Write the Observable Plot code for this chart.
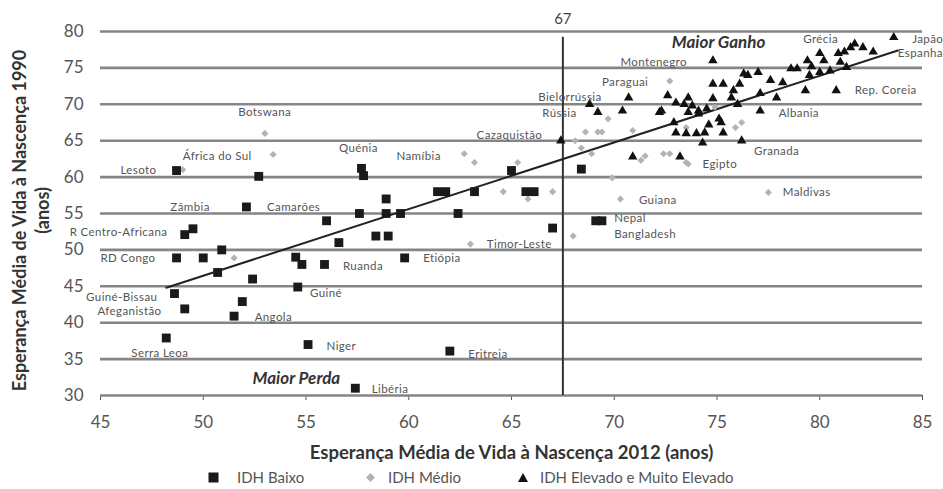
<!DOCTYPE html>
<html>
<head>
<meta charset="utf-8">
<script src="https://cdn.jsdelivr.net/npm/d3@7"></script>
<script src="https://cdn.jsdelivr.net/npm/@observablehq/plot@0.6"></script>
<style>
  html, body { margin: 0; padding: 0; background: #fff; overflow: hidden; }
  #wrap { position: relative; width: 943px; height: 489px; font-family: Lato, "Open Sans", sans-serif; }
  #legend { position: absolute; left: 0; top: 465px; width: 943px; height: 24px; font-size: 15px; color: #555; }
  #legend .it { position: absolute; top: 3px; display: flex; align-items: center; white-space: nowrap; }
  .lbl text { letter-spacing: 0.4px; }
</style>
</head>
<body>
<div id="wrap">
  <div id="chart"></div>
  <div id="legend"></div>
</div>
<script>
// ---- Data ----
const xTicks = [45, 50, 55, 60, 65, 70, 75, 80, 85];
const yTicks = [30, 35, 40, 45, 50, 55, 60, 65, 70, 75, 80];

// IDH Baixo (squares)
const lowX = [48.7, 52.7, 52.1, 56.0, 49.1, 49.5, 48.7, 50.0, 50.9, 50.7, 52.4, 54.5, 54.8, 55.9, 48.6, 49.1, 51.9, 51.5, 54.6, 48.2, 55.1, 57.4, 62.0, 57.7, 57.8, 58.9, 57.6, 58.9, 59.6, 58.4, 59.0, 56.6, 59.8, 61.4, 61.8, 63.2, 62.4, 65.0, 65.7, 66.1, 67.0, 68.4, 69.1, 69.4];
const lowY = [60.9, 60.1, 55.9, 54.0, 52.1, 52.9, 48.9, 48.9, 50.0, 46.9, 46.0, 49.0, 48.0, 48.0, 44.0, 41.9, 42.9, 40.9, 44.9, 37.9, 37.0, 31.0, 36.1, 61.2, 60.2, 57.0, 55.0, 55.0, 55.0, 51.9, 51.9, 51.0, 48.9, 58.0, 58.0, 58.0, 55.0, 60.9, 58.0, 58.0, 53.0, 61.1, 54.0, 54.0];

// IDH Médio (diamonds)
const medX = [53.0, 53.4, 49.0, 51.5, 62.7, 63.2, 65.3, 64.6, 67.0, 65.8, 63.0, 68.0, 69.9, 68.1, 68.6, 69.2, 69.4, 69.7, 68.4, 68.9, 70.3, 72.7, 71.5, 72.4, 72.7, 73.5, 73.5, 75.9, 70.9, 77.5, 76.4, 74.9, 76.2, 71.3, 73.6];
const medY = [66.0, 63.1, 61.0, 48.9, 63.2, 62.0, 62.0, 58.0, 58.0, 57.0, 50.8, 51.9, 59.9, 65.0, 66.2, 66.2, 66.2, 68.0, 64.0, 63.2, 57.0, 73.2, 62.9, 63.2, 63.2, 62.0, 66.8, 66.8, 66.4, 57.9, 74.0, 69.6, 67.5, 62.3, 61.8];

// IDH Elevado e Muito Elevado (triangles)
const highX = [67.4, 68.8, 69.2, 70.7, 70.4, 72.2, 72.6, 74.8, 73.0, 73.4, 73.8, 74.1, 74.5, 74.8, 75.3, 74.8, 75.7, 73.6, 74.1, 75.1, 73.0, 73.5, 74.0, 74.4, 74.3, 75.3, 76.2, 70.9, 73.2, 76.3, 73.6, 75.8, 76.1, 76.5, 77.0, 77.6, 77.1, 78.2, 77.9, 77.1, 79.3, 80.8, 78.6, 78.9, 79.4, 79.6, 80.0, 80.2, 80.5, 80.9, 81.2, 81.5, 81.7, 82.1, 82.6, 81.3, 81.0, 79.5, 80.0, 83.6, 72.3, 76.0, 75.2, 74.6, 72.9];
const highY = [65.0, 70.0, 68.9, 70.9, 69.1, 68.9, 71.2, 76.0, 70.2, 70.0, 69.8, 69.1, 69.4, 72.8, 72.8, 70.8, 70.9, 68.9, 68.7, 68.0, 66.1, 66.0, 66.0, 66.1, 64.7, 66.1, 65.0, 62.8, 62.8, 74.2, 70.9, 71.9, 72.8, 74.0, 74.4, 73.3, 71.5, 73.0, 70.9, 69.1, 71.9, 71.9, 74.9, 74.9, 76.0, 75.2, 77.0, 76.0, 74.6, 77.0, 77.2, 77.8, 78.3, 77.8, 77.2, 75.1, 75.8, 74.0, 74.4, 79.2, 69.1, 70.0, 67.5, 67.2, 67.5];

// Trend line end points
const trendX = [48.2, 83.8];
const trendY = [44.8, 77.4];

// Reference line
const refX = 67.5;
const refLabel = "67";

// Country labels (left edge position)
const labelText = ["Botswana", "África do Sul", "Lesoto", "Zâmbia", "Camarões", "R Centro-Africana", "RD Congo", "Guiné-Bissau", "Afeganistão", "Angola", "Serra Leoa", "Niger", "Guiné", "Ruanda", "Etiópia", "Eritreia", "Libéria", "Quénia", "Namíbia", "Cazaquistão", "Timor-Leste", "Bielorrússia", "Rússia", "Paraguai", "Montenegro", "Guiana", "Nepal", "Bangladesh", "Egipto", "Granada", "Albania", "Maldivas", "Rep. Coreia", "Grécia", "Japão", "Espanha"];
const labelX = [51.7, 49.0, 45.97, 48.4, 53.1, 43.5, 45.0, 44.3, 44.85, 52.5, 46.5, 56.0, 55.2, 56.8, 60.7, 62.9, 58.2, 56.6, 59.4, 63.3, 63.8, 66.3, 66.5, 69.4, 70.3, 71.2, 70.0, 70.0, 74.3, 76.8, 78.0, 78.2, 81.7, 79.2, 84.5, 83.8];
const labelY = [68.9, 62.8, 60.9, 55.8, 55.8, 52.4, 48.8, 43.5, 41.5, 40.7, 35.8, 36.7, 44.0, 47.7, 48.8, 35.7, 30.8, 64.0, 62.8, 65.7, 50.8, 70.9, 68.7, 73.0, 75.7, 56.8, 54.3, 52.2, 61.8, 63.6, 68.7, 57.9, 71.9, 78.9, 78.9, 77.0];

// Highlights
const noteText = ["Maior Ganho", "Maior Perda"];
const noteX = [72.8, 52.4];
const noteY = [78.5, 32.3];

const xTitle = "Esperança Média de Vida à Nascença 2012 (anos)";
const yTitle1 = "Esperança Média de Vida à Nascença 1990";
const yTitle2 = "(anos)";
const legendItems = ["IDH Baixo", "IDH Médio", "IDH Elevado e Muito Elevado"];

// ---- Build tables ----
const low = lowX.map((x, i) => ({x, y: lowY[i]}));
const med = medX.map((x, i) => ({x, y: medY[i]}));
const high = highX.map((x, i) => ({x, y: highY[i]}));
const trend = trendX.map((x, i) => ({x, y: trendY[i]}));
const labels = labelText.map((t, i) => ({t, x: labelX[i], y: labelY[i]}));
const notes = noteText.map((t, i) => ({t, x: noteX[i], y: noteY[i]}));
const gridLines = yTicks;

const FONT = "Lato, 'Open Sans', sans-serif";
const chart = Plot.plot({
  width: 943,
  height: 465,
  marginLeft: 100,
  marginRight: 21,
  marginTop: 31,
  marginBottom: 70,
  style: {fontFamily: FONT, fontSize: "17px", color: "#555", background: "#fff", overflow: "visible"},
  x: {domain: [45, 85], ticks: xTicks, tickSize: 5, tickPadding: 15, label: null},
  y: {domain: [30, 80], ticks: yTicks, tickSize: 0, tickPadding: 17, label: null},
  marks: [
    Plot.ruleY(gridLines, {stroke: "#858585", strokeWidth: 2.6}),
    Plot.ruleX([refX], {y1: 30, y2: 79.2, stroke: "#333", strokeWidth: 2}),
    Plot.text([refLabel], {x: refX, y: 80, dy: -12, text: d => d, fontSize: 15, fill: "#444"}),
    Plot.line(trend, {x: "x", y: "y", stroke: "#222", strokeWidth: 2}),
    Plot.dot(med, {x: "x", y: "y", symbol: "diamond2", r: 3.2, fill: "#b3b3b3", stroke: "none"}),
    Plot.dot(low, {x: "x", y: "y", symbol: "square", r: 5, fill: "#1a1a1a", stroke: "none"}),
    Plot.dot(high, {x: "x", y: "y", symbol: "triangle", r: 3.5, fill: "#111", stroke: "none"}),
    Plot.text(labels, {x: "x", y: "y", text: "t", textAnchor: "start", fontSize: 11.5, fill: "#555", className: "lbl"}),
    Plot.text(notes, {x: "x", y: "y", text: "t", textAnchor: "start", fontSize: 17, fontWeight: "bold", fontStyle: "italic", fill: "#333"}),
    Plot.text([xTitle], {frameAnchor: "bottom", dy: 63, text: d => d, fontSize: 18.5, fontWeight: "bold", fill: "#333"}),
    Plot.text([yTitle1], {frameAnchor: "left", textAnchor: "middle", dx: -80, dy: 7, rotate: -90, text: d => d, fontSize: 18, fontWeight: "bold", fill: "#333"}),
    Plot.text([yTitle2], {frameAnchor: "left", textAnchor: "middle", dx: -57, dy: -3, rotate: -90, text: d => d, fontSize: 18, fontWeight: "bold", fill: "#333"})
  ]
});
document.getElementById("chart").appendChild(chart);

// ---- Legend ----
const legend = document.getElementById("legend");
const symbols = [
  '<svg width="11" height="11"><rect x="0.5" y="0.5" width="10" height="10" fill="#1a1a1a"/></svg>',
  '<svg width="9" height="9"><path d="M4.5 0 L9 4.5 L4.5 9 L0 4.5Z" fill="#b3b3b3"/></svg>',
  '<svg width="10" height="9"><path d="M5 0 L10 9 L0 9Z" fill="#111"/></svg>'
];
const legendLeft = [208, 366, 518];
const legendGap = [18, 13, 12];
legendItems.forEach((t, i) => {
  const s = document.createElement("div");
  s.className = "it";
  s.style.left = legendLeft[i] + "px";
  s.innerHTML = symbols[i].replace("<svg ", '<svg style="margin-right:' + legendGap[i] + 'px" ') + "<span>" + t + "</span>";
  legend.appendChild(s);
});
</script>
</body>
</html>
